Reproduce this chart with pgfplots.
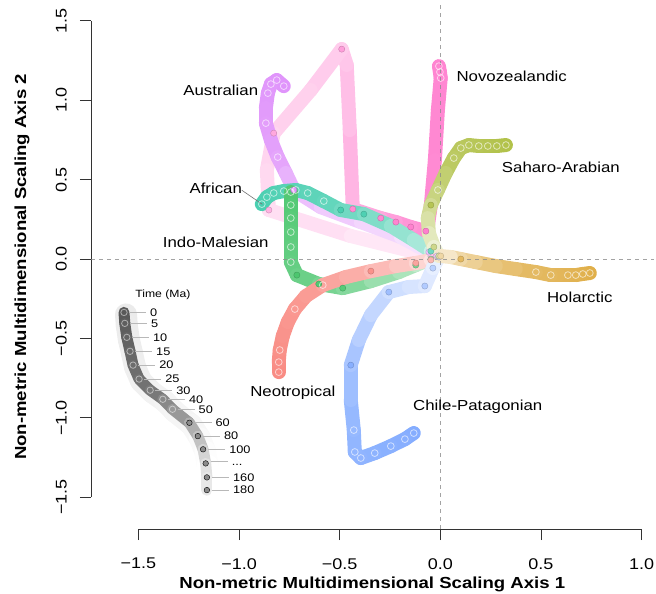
\documentclass[border=0pt]{standalone}
\usepackage{fontspec}
\setmainfont{Liberation Sans}[FakeStretch=1.16]
\usepackage{pgfplots}
\pgfplotsset{compat=1.18}
\usepackage{pgfplotstable}

\definecolor{cNeo}{RGB}{248,118,109}
\definecolor{cHol}{RGB}{218,160,40}
\definecolor{cSah}{RGB}{163,182,40}
\definecolor{cInd}{RGB}{50,190,90}
\definecolor{cAfr}{RGB}{40,198,162}
\definecolor{cChi}{RGB}{110,158,255}
\definecolor{cAus}{RGB}{218,128,250}
\definecolor{cNzl}{RGB}{255,110,200}

\newcommand\mkmaps[2]{\pgfplotsset{colormap={#1}{color=(#2!85!white) color=(#2!72!white) color=(#2!48!white) color=(#2!34!white) color=(#2!24!white) color=(#2!14!white)},
  colormap={#1d}{color=(#2!92!white) color=(#2!86!white) color=(#2!76!white) color=(#2!64!white) color=(#2!52!white) color=(#2!42!white)}}}
\mkmaps{mNeo}{cNeo}
\mkmaps{mHol}{cHol}
\mkmaps{mSah}{cSah}
\mkmaps{mInd}{cInd}
\mkmaps{mAfr}{cAfr}
\mkmaps{mChi}{cChi}
\mkmaps{mAus}{cAus}
\mkmaps{mNzl}{cNzl}
\pgfplotsset{colormap={mLeg}{color=(black!66) color=(black!52) color=(black!30) color=(black!18) color=(black!12) color=(black!8)},
  colormap={mHalo}{color=(black!8) color=(black!5) color=(black!3) color=(black!1) color=(white) color=(white)}}

\newcommand\tickfont{\fontsize{15.5}{18}\selectfont}
\newcommand\titlefont{\fontsize{16}{19}\selectfont\bfseries}
\newcommand\labfont{\fontsize{14.5}{17}\selectfont}
\newcommand\legfont{\fontsize{11}{13}\selectfont}
\newcommand\timefont{\fontsize{10.5}{12}\selectfont}

% x y t f   (t = time in Ma, f: 0 hollow mark, 1 filled mark, 2 none)
\pgfplotstableread{
x y t f
-0.803 -0.712 0 0
-0.803 -0.649 5 0
-0.798 -0.573 10 0
-0.783 -0.485 15 2
-0.758 -0.397 20 2
-0.723 -0.315 25 0
-0.668 -0.233 30 2
-0.584 -0.164 40 0
-0.469 -0.113 50 2
-0.345 -0.076 60 1
-0.221 -0.044 80 2
-0.122 -0.025 100 1
-0.047 -0.006 140 1
-0.007 0.013 180 1
}\tNeo
\pgfplotstableread{
x y t f
0.743 -0.088 0 0
0.708 -0.094 5 0
0.673 -0.101 10 0
0.634 -0.101 15 0
0.589 -0.101 20 2
0.549 -0.101 25 0
0.475 -0.082 30 0
0.375 -0.063 40 2
0.276 -0.044 50 2
0.176 -0.019 60 2
0.102 0.000 80 1
0.052 0.013 100 2
0.002 0.019 180 1
}\tHol
\pgfplotstableread{
x y t f
0.326 0.718 0 0
0.281 0.712 5 0
0.236 0.712 10 0
0.191 0.712 15 0
0.142 0.718 20 0
0.102 0.699 25 0
0.067 0.636 30 0
0.027 0.542 40 2
-0.012 0.435 50 0
-0.047 0.340 60 1
-0.062 0.258 80 2
-0.057 0.164 100 2
-0.032 0.076 140 1
-0.007 0.019 180 1
}\tSah
\pgfplotstableread{
x y t f
-0.743 0.422 0 0
-0.743 0.340 5 0
-0.743 0.258 10 0
-0.743 0.170 15 0
-0.743 0.076 20 0
-0.743 -0.019 25 0
-0.713 -0.101 30 1
-0.604 -0.157 40 1
-0.485 -0.183 50 1
-0.345 -0.139 60 2
-0.206 -0.082 80 2
-0.122 -0.038 100 1
-0.047 0.000 140 1
-0.007 0.019 180 1
}\tInd
\pgfplotstableread{
x y t f
-0.887 0.346 0 0
-0.862 0.390 5 0
-0.828 0.416 10 0
-0.778 0.428 15 0
-0.718 0.435 20 0
-0.659 0.416 25 0
-0.579 0.365 30 0
-0.495 0.309 40 1
-0.380 0.283 50 1
-0.246 0.208 60 2
-0.132 0.120 80 2
-0.047 0.050 100 1
-0.007 0.019 180 1
}\tAfr
\pgfplotstableread{
x y t f
-0.132 -1.096 0 0
-0.176 -1.134 5 0
-0.246 -1.178 10 0
-0.326 -1.222 15 0
-0.395 -1.253 20 0
-0.425 -1.215 25 0
-0.430 -1.077 30 0
-0.445 -0.888 40 2
-0.445 -0.668 50 1
-0.405 -0.510 60 2
-0.345 -0.353 80 2
-0.256 -0.208 100 1
-0.157 -0.176 120 2
-0.077 -0.170 140 1
-0.037 -0.057 160 1
-0.007 0.013 180 1
}\tChi
\pgfplotstableread{
x y t f
-0.778 1.089 0 0
-0.813 1.127 3 0
-0.842 1.102 6 0
-0.857 1.045 10 0
-0.867 0.951 15 2
-0.867 0.856 20 0
-0.842 0.749 25 2
-0.808 0.642 30 0
-0.768 0.542 45 2
-0.728 0.435 60 1
-0.594 0.327 80 2
-0.395 0.233 100 2
-0.196 0.139 130 2
-0.057 0.044 160 1
-0.017 0.019 180 1
}\tAus
\pgfplotstableread{
x y t f
-0.007 1.215 0 0
-0.002 1.178 3 0
0.002 1.140 6 0
-0.012 0.939 8 2
-0.027 0.623 10 2
-0.047 0.340 13 2
-0.062 0.208 18 2
-0.072 0.176 22 1
-0.147 0.202 30 1
-0.221 0.233 40 1
-0.296 0.258 50 1
-0.435 0.315 60 1
-0.450 0.812 75 2
-0.465 1.222 90 2
-0.490 1.322 100 1
-0.644 1.064 110 2
-0.828 0.793 120 1
-0.862 0.560 130 2
-0.852 0.309 140 1
-0.445 0.145 160 2
-0.047 0.019 180 1
}\tNzl
\pgfplotstableread{
x y t f lab
-1.572 -0.336 0 0 0
-1.568 -0.405 5 0 5
-1.558 -0.493 10 0 10
-1.542 -0.581 15 0 15
-1.527 -0.668 20 0 20
-1.497 -0.756 25 0 25
-1.442 -0.826 30 0 30
-1.379 -0.883 40 0 40
-1.331 -0.946 50 0 50
-1.247 -1.031 60 1 60
-1.205 -1.115 80 1 80
-1.179 -1.198 100 1 100
-1.166 -1.287 130 1 ...
-1.160 -1.375 160 1 160
-1.160 -1.455 180 1 180
}\tLeg

\newcommand\traj[2]{%
  \addplot[mesh, colormap name=#2, point meta=explicit, line width=14pt, line cap=round, line join=round] table[x=x,y=y,meta=t] {#1};
  \addplot[scatter, only marks, mark=*, mark size=3.1pt, colormap name=#2d, point meta=explicit,
     restrict expr to domain={\thisrow{f}}{0.5:1.5}] table[x=x,y=y,meta=t] {#1};
  \addplot[only marks, mark=o, mark size=3.4pt, mark options={draw=white, draw opacity=0.6, line width=0.8pt},
     restrict expr to domain={\thisrow{f}}{-0.5:0.5}] table[x=x,y=y] {#1};
}

\begin{document}
\begin{tikzpicture}
\begin{axis}[
  scale only axis, width=562.6pt, height=524pt,
  xmin=-1.736, xmax=1.06, ymin=-1.70, ymax=1.60,
  axis lines*=left, axis line style={draw=none},
  clip=false,
  xtick={-1.5,-1,-0.5,0,0.5,1}, xticklabels={−1.5,−1.0,−0.5,0.0,0.5,1.0},
  ytick={-1.5,-1,-0.5,0,0.5,1,1.5}, yticklabels={−1.5,−1.0,−0.5,0.0,0.5,1.0,1.5},
  tick align=outside, major tick length=11pt,
  tick style={black!80, line width=0.8pt},
  ticklabel style={font=\tickfont, text=black},
  xticklabel style={anchor=north, inner sep=0pt, yshift=-18pt},
  yticklabel style={rotate=90, anchor=south, inner sep=0pt},
  yticklabel shift=13pt,
  point meta min=0, point meta max=180,
]
% axis lines (R style)
\draw[black!80, line width=0.8pt] (axis cs:-1.5,-1.70) -- (axis cs:1.0,-1.70);
\draw[black!80, line width=0.8pt] (axis cs:-1.736,-1.5) -- (axis cs:-1.736,1.5);

% time legend
\addplot[mesh, colormap name=mHalo, point meta=explicit, line width=22pt, line cap=round, xshift=2pt, yshift=-2pt] table[x=x,y=y,meta=t] {\tLeg};
\addplot[mesh, colormap name=mLeg, point meta=explicit, line width=11pt, line cap=round, line join=round] table[x=x,y=y,meta=t] {\tLeg};
\addplot[only marks, mark=*, mark size=2.8pt, mark options={fill=black!45, draw=none},
   restrict expr to domain={\thisrow{f}}{0.5:1.5}] table[x=x,y=y] {\tLeg};
\addplot[only marks, mark=o, mark size=3.2pt, mark options={draw=white, draw opacity=0.5, line width=0.8pt},
   restrict expr to domain={\thisrow{f}}{-0.5:0.5}] table[x=x,y=y] {\tLeg};
\addplot[draw=none, mark=none, point meta=explicit symbolic,
   nodes near coords={\textcolor{black!28}{\rule[3.6pt]{17pt}{0.6pt}}\hspace{4pt}\pgfplotspointmeta},
   every node near coord/.append style={anchor=west, inner sep=0pt, xshift=5pt, font=\legfont, text=black}]
   table[x=x,y=y,meta=lab] {\tLeg};
\node[font=\timefont] at (axis cs:-1.379,-0.227) {Time (Ma)};

% trajectories
\traj{\tNzl}{mNzl}
\traj{\tAus}{mAus}
\traj{\tAfr}{mAfr}
\traj{\tInd}{mInd}
\traj{\tNeo}{mNeo}
\traj{\tChi}{mChi}
\traj{\tSah}{mSah}
\traj{\tHol}{mHol}

% zero lines
\addplot[black!45, line width=0.8pt, dash pattern=on 4pt off 4pt, opacity=0.8] coordinates {(-1.736,0) (1.06,0)};
\addplot[black!45, line width=0.8pt, dash pattern=on 4pt off 4pt, opacity=0.8] coordinates {(0,-1.70) (0,1.60)};

% African pointer
\addplot[black!55, line width=0.6pt] coordinates {(-0.987,0.434) (-0.885,0.345)};

% region labels
\node[font=\labfont] at (axis cs:-1.091,1.064) {Australian};
\node[font=\labfont] at (axis cs:0.355,1.152) {Novozealandic};
\node[font=\labfont] at (axis cs:0.599,0.579) {Saharo-Arabian};
\node[font=\labfont] at (axis cs:-1.116,0.447) {African};
\node[font=\labfont] at (axis cs:-1.116,0.107) {Indo-Malesian};
\node[font=\labfont] at (axis cs:0.693,-0.239) {Holarctic};
\node[font=\labfont] at (axis cs:-0.733,-0.844) {Neotropical};
\node[font=\labfont] at (axis cs:0.186,-0.932) {Chile-Patagonian};

% axis titles
\node[font=\titlefont] at ([yshift=-55pt]rel axis cs:0.5,0) {Non-metric Multidimensional Scaling Axis 1};
\node[font=\titlefont, rotate=90] at ([xshift=-69pt]rel axis cs:0,0.5) {Non-metric Multidimensional Scaling Axis 2};
\end{axis}
\pgfresetboundingbox
\path (current axis.south west) ++(-91pt,-65pt) rectangle ++(656pt,594pt);
\end{tikzpicture}
\end{document}
